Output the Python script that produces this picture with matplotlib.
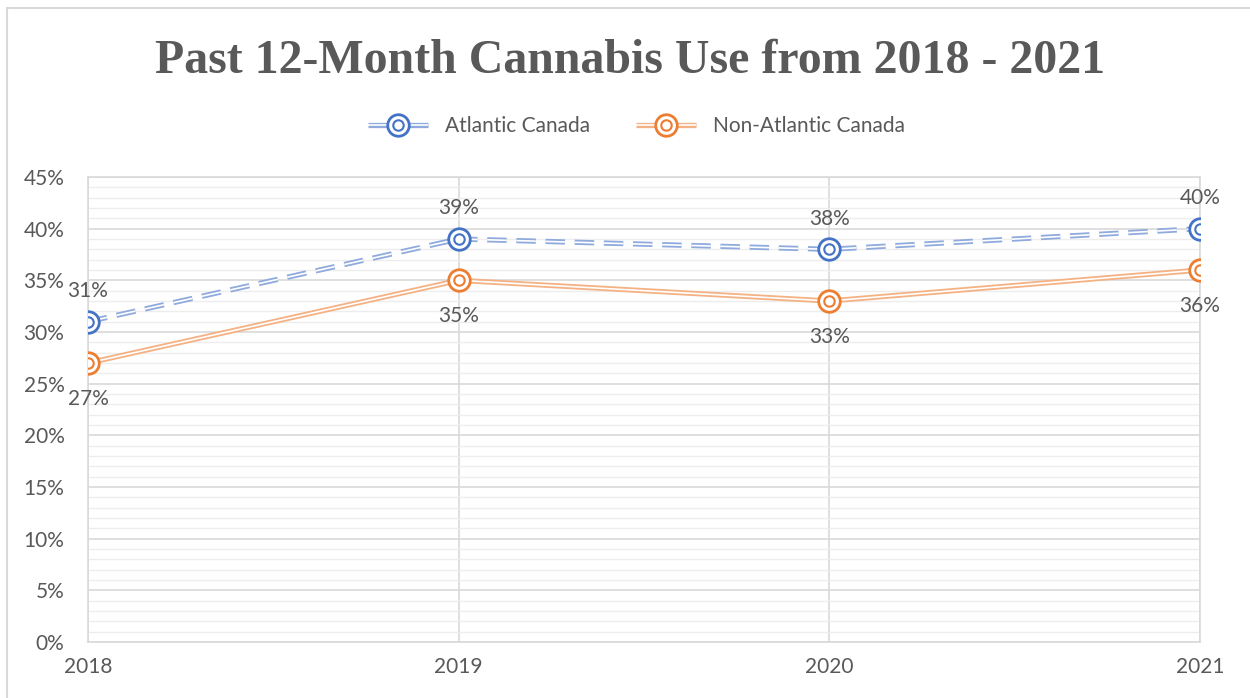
import matplotlib.pyplot as plt
from matplotlib.lines import Line2D
from matplotlib.patches import Rectangle
from matplotlib.legend_handler import HandlerTuple
from matplotlib.ticker import MultipleLocator, PercentFormatter

plt.rcParams['font.family'] = ['Lato', 'DejaVu Sans']
plt.rcParams['lines.scale_dashes'] = False

years = ['2018', '2019', '2020', '2021']
atlantic = [31, 39, 38, 40]
non_atlantic = [27, 35, 33, 36]

TEXT = '#595959'
BLUE = '#4472C4'
BLUE_LINE = '#8FAADC'
ORANGE = '#ED7D31'
ORANGE_LINE = '#F4B183'
FS = 15

fig = plt.figure(figsize=(12.5, 6.98), dpi=100)
ax = fig.add_axes([88 / 1250, 1 - 642 / 698, 1112 / 1250, 465 / 698])

# outer chart frame
fig.patches.append(Rectangle((7 / 1250, -0.05), 1.2, 1 - 8 / 698 + 0.05,
                             transform=fig.transFigure, fill=False,
                             edgecolor='#D9D9D9', lw=1.5))

x = range(len(years))


def styles(lcolor, mcolor, dashed):
    ls = (0, (14, 7)) if dashed else '-'
    common = dict(ls=ls, solid_capstyle='butt', dash_capstyle='butt')
    return [
        dict(color=lcolor, lw=3.8, zorder=3, **common),
        dict(color='white', lw=1.2, zorder=4, **common),
        dict(ls='none', marker='o', ms=15.5, mfc='white', mec=mcolor, mew=2.0, zorder=5),
        dict(ls='none', marker='o', ms=7.5, mfc='white', mec=mcolor, mew=1.5, zorder=6),
    ]


def double_line(ys, lcolor, mcolor, dashed):
    for kw in styles(lcolor, mcolor, dashed):
        ax.plot(x, ys, **kw)


double_line(atlantic, BLUE_LINE, BLUE, True)
double_line(non_atlantic, ORANGE_LINE, ORANGE, False)

for i, v in enumerate(atlantic):
    ax.annotate(f'{v}%', (i, v), xytext=(0, 22), textcoords='offset points',
                ha='center', va='center', fontsize=FS, color=TEXT)
for i, v in enumerate(non_atlantic):
    ax.annotate(f'{v}%', (i, v), xytext=(0, -26), textcoords='offset points',
                ha='center', va='center', fontsize=FS, color=TEXT)

ax.set_xlim(0, 3)
ax.set_ylim(0, 45)
ax.set_xticks(list(x))
ax.set_xticklabels(years)
ax.yaxis.set_major_locator(MultipleLocator(5))
ax.yaxis.set_minor_locator(MultipleLocator(1))
ax.yaxis.set_major_formatter(PercentFormatter(decimals=0))
ax.tick_params(which='both', length=0, labelsize=FS, labelcolor=TEXT)
ax.tick_params(axis='y', pad=17)
ax.tick_params(axis='x', pad=11)

ax.grid(which='major', axis='y', color='#D9D9D9', lw=1.2, zorder=0)
ax.grid(which='minor', axis='y', color='#EDEDED', lw=1.0, zorder=0)
ax.grid(which='major', axis='x', color='#D9D9D9', lw=1.2, zorder=0)
ax.set_axisbelow(True)
for s in ax.spines.values():
    s.set_color('#D9D9D9')
    s.set_linewidth(1.2)

fig.text(0.504, 1 - 61 / 698, 'Past 12-Month Cannabis Use from 2018 - 2021',
         ha='center', va='center', fontsize=34.5, fontweight='bold',
         family='Liberation Serif', color=TEXT)


def legend_handle(lcolor, mcolor):
    parts = []
    for kw in styles(lcolor, mcolor, False):
        kw.pop('zorder')
        parts.append(Line2D([], [], **kw))
    return tuple(parts)


handles = [legend_handle(BLUE_LINE, BLUE),
           legend_handle(ORANGE_LINE, ORANGE)]
leg = fig.legend(handles, ['Atlantic Canada', 'Non-Atlantic Canada'],
                 handler_map={tuple: HandlerTuple(ndivide=1, pad=0)},
                 loc='center', bbox_to_anchor=(0.509, 1 - 126 / 698), ncol=2,
                 frameon=False, fontsize=FS, handlelength=2.9, columnspacing=2.2,
                 handletextpad=0.8)
for t in leg.get_texts():
    t.set_color(TEXT)

fig.savefig('out.png', dpi=100)
